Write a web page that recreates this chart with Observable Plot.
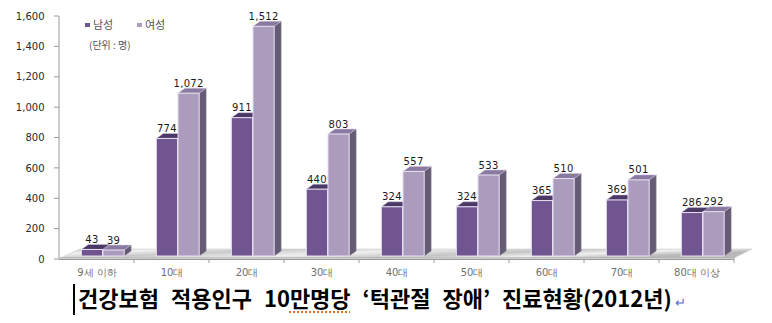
<!DOCTYPE html>
<html><head><meta charset="utf-8">
<script src="https://cdn.jsdelivr.net/npm/d3@7"></script>
<script src="https://cdn.jsdelivr.net/npm/@observablehq/plot@0.6"></script>
<style>
body{margin:0;background:#fff;}
#wrap{position:relative;width:772px;height:323px;overflow:hidden;background:#fff;}
#chart{position:absolute;left:0;top:0;}
.leg{position:absolute;font-family:"Noto Sans CJK KR",sans-serif;color:#555;white-space:nowrap;}
.sw{position:absolute;width:5px;height:4px;}
#title{position:absolute;left:73px;top:284px;font-family:"Noto Sans CJK KR",sans-serif;font-weight:bold;font-size:22px;line-height:26px;color:#000;white-space:nowrap;letter-spacing:0px;word-spacing:7px;border-left:2px solid #000;padding-left:3px;}
#title .sq{text-decoration:underline dotted #e07020;text-underline-offset:4px;}
#title .ret{color:#4a6fd0;font-weight:normal;font-size:13px;margin-left:3px;letter-spacing:0;}
</style></head><body><div id="wrap"><div id="chart"></div></div>
<script>
const categories = ["9세 이하","10대","20대","30대","40대","50대","60대","70대","80대 이상"];
const seriesNames = ["남성","여성"];
const male = [43,774,911,440,324,324,365,369,286];
const female = [39,1072,1512,803,557,533,510,501,292];
const yTicks = [0,200,400,600,800,1000,1200,1400,1600];
const unitLabel = "(단위 : 명)";
const titleText = ["건강보험 적용인구 10", "만명당", " ‘턱관절 장애’ 진료현황(2012년)"];

const colors = {
  "남성": {front:"#705590", top:"#4b3866", side:"#5a4d6c"},
  "여성": {front:"#ab9bbd", top:"#8a7aa2", side:"#665b74"}
};

const rows = [];
categories.forEach((c,i)=>{
  rows.push({cat:c, series:"남성", value:male[i]});
  rows.push({cat:c, series:"여성", value:female[i]});
});

function bars3d(index, scales, values, dimensions, context) {
  const x = scales.x, y = scales.y;
  const bw = x(categories[1]) - x(categories[0]);
  const x0 = x(categories[0]), x1 = x(categories[categories.length-1]) + bw;
  const y0 = y(0);
  const g = d3.create("svg:g");
  const defs = g.append("defs");
  const lg = defs.append("linearGradient").attr("id","floorGrad").attr("x1","0").attr("x2","1").attr("y1","0").attr("y2","0.3");
  [[0,"#bdbdbd"],[0.15,"#f2f2f2"],[0.3,"#c9c9c9"],[0.5,"#eeeeee"],[0.7,"#c4c4c4"],[0.85,"#f0f0f0"],[1,"#b8b8b8"]]
    .forEach(([o,c])=>lg.append("stop").attr("offset",o).attr("stop-color",c));
  // floor slab
  const fy = y0 - 1, by = y0 - 10;
  g.append("path").attr("d",`M${x0+1},${fy}L${x0+21},${by}L${x1+18},${by}L${x1},${fy}Z`)
    .attr("fill","url(#floorGrad)").attr("stroke","#d0d0d0").attr("stroke-width",0.6);
  g.append("path").attr("d",`M${x0+1},${fy}L${x1},${fy}L${x1+1},${fy+0.5}`).attr("stroke","#a8a8a8").attr("fill","none");
  // axes lines
  const ax = "#9a9a9a";
  g.append("line").attr("x1",x0).attr("x2",x0).attr("y1",y(yTicks[yTicks.length-1])).attr("y2",y0).attr("stroke",ax);
  yTicks.forEach(t=>g.append("line").attr("x1",x0-5).attr("x2",x0).attr("y1",y(t)).attr("y2",y(t)).attr("stroke",ax));
  g.append("line").attr("x1",x0).attr("x2",x1).attr("y1",y0+0.5).attr("y2",y0+0.5).attr("stroke",ax);
  categories.forEach(c=>{
    const xb = x(c)+bw;
    g.append("line").attr("x1",xb).attr("x2",xb).attr("y1",y0).attr("y2",y0+4).attr("stroke",ax);
  });
  // bars
  const dx = 7, dy = 5, base = y0 - 3;
  const w = bw*0.282;
  const offs = {"남성": bw*0.298, "여성": bw*0.298 + w + 0.5};
  rows.forEach(d => {
    const c = colors[d.series];
    const xl = x(d.cat) + offs[d.series], xr = xl + w;
    const yt = y(d.value) - 3;
    g.append("path").attr("d",`M${xr},${yt}L${xr+dx},${yt-dy}L${xr+dx},${base-dy}L${xr},${base}Z`).attr("fill",c.side).attr("stroke","#8a8094").attr("stroke-width",0.5);
    g.append("path").attr("d",`M${xl},${yt}L${xl+dx},${yt-dy}L${xr+dx},${yt-dy}L${xr},${yt}Z`).attr("fill",c.top).attr("stroke","#cfc6da").attr("stroke-width",0.5);
    g.append("rect").attr("x",xl).attr("y",yt).attr("width",w).attr("height",base-yt).attr("fill",c.front)
      .attr("stroke","#e6def0").attr("stroke-width",1);
    g.append("text").attr("x",(xl+xr)/2).attr("y",yt-dy-1.5).attr("text-anchor","middle")
      .attr("font-family","DejaVu Sans").attr("font-size",10).attr("letter-spacing",0.3).attr("fill","#1a1a1a")
      .text(d3.format(",")(d.value));
  });
  return g.node();
}

const chart = Plot.plot({
  width: 772, height: 280,
  marginLeft: 57, marginRight: 36, marginTop: 16, marginBottom: 21,
  style: {fontFamily: "DejaVu Sans", fontSize: "10px", color: "#2a2a2a", background: "transparent"},
  x: {type: "band", domain: categories, padding: 0, axis: null},
  y: {domain: [0, 1600], ticks: yTicks, tickFormat: d3.format(","), tickSize: 0, tickPadding: 13, label: null},
  marks: [
    bars3d,
    Plot.text(categories, {x: d => d, y: () => 0, dy: 13, fill: "#707070", fontSize: 10, fontFamily: "DejaVu Sans", letterSpacing: 0.5})
  ]
});
document.getElementById("chart").appendChild(chart);

const wrap = document.getElementById("wrap");
function addEl(cls, style, text){const e=document.createElement("div");e.className=cls;Object.assign(e.style,style);if(text)e.textContent=text;wrap.appendChild(e);return e;}
addEl("sw",{left:"85px",top:"23px",background:colors["남성"].front});
addEl("leg",{left:"93px",top:"16px",fontSize:"11px",lineHeight:"16px"},seriesNames[0]);
addEl("sw",{left:"137px",top:"23px",background:colors["여성"].front});
addEl("leg",{left:"145px",top:"16px",fontSize:"11px",lineHeight:"16px"},seriesNames[1]);
addEl("leg",{left:"89px",top:"37px",fontSize:"10px",lineHeight:"16px"},unitLabel);

const t = document.createElement("div");
t.id = "title";
t.appendChild(document.createTextNode(titleText[0]));
const s = document.createElement("span"); s.className="sq"; s.textContent = titleText[1]; t.appendChild(s);
t.appendChild(document.createTextNode(titleText[2]));
const r = document.createElement("span"); r.className="ret"; r.textContent="↵"; t.appendChild(r);
wrap.appendChild(t);
</script>
</body></html>
